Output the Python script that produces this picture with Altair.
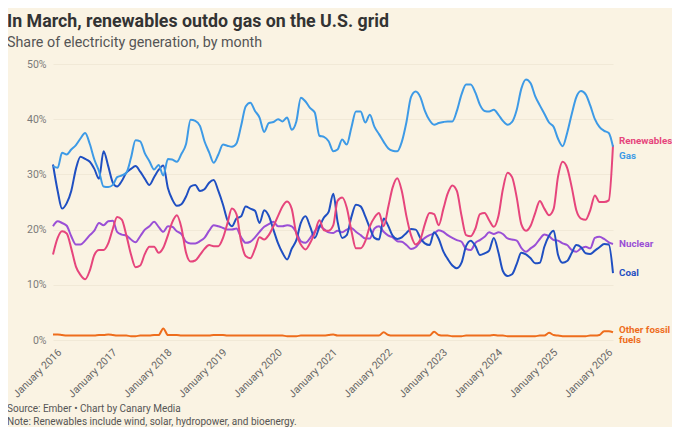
import altair as alt
import pandas as pd

# ---- data (monthly share of US electricity generation, %) ----
years = list(range(2016, 2027))
last_month_2026 = 3

renewables = [
    15.5, 18.5, 19.7, 19.3, 16.6, 13.3, 11.8, 11.0, 12.6, 15.4, 16.3, 16.3,
    17.5, 20.2, 22.3, 21.8, 19.0, 15.5, 13.2, 13.5, 15.6, 16.9, 16.9, 15.8,
    16.7, 19.0, 21.3, 22.6, 20.4, 15.8, 14.2, 14.4, 15.4, 16.5, 17.2, 17.0,
    17.0, 18.5, 21.0, 23.8, 22.8, 17.8, 15.2, 14.8, 16.5, 18.6, 18.2, 19.0,
    20.6, 22.5, 24.2, 25.1, 23.8, 19.2, 17.3, 16.4, 17.6, 19.4, 21.7, 19.9,
    19.8, 20.8, 25.2, 25.8, 24.0, 19.8, 16.6, 16.6, 17.9, 20.6, 22.2, 23.0,
    20.6, 24.2, 27.6, 29.3, 27.0, 22.4, 19.0, 17.3, 18.2, 21.0, 23.0, 22.8,
    20.8, 23.8, 26.5, 28.0, 27.0, 22.5, 19.0, 18.8, 20.2, 22.8, 23.0, 21.7,
    20.5, 22.5, 27.3, 30.3, 29.5, 25.8, 21.0, 19.8, 20.7, 23.0, 25.2, 23.8,
    22.6, 23.8, 29.5, 32.3, 31.2, 27.6, 23.5, 22.0, 21.8, 23.5, 26.2, 25.0,
    25.0, 25.3, 35.3,
]
gas = [
    31.5, 31.2, 33.9, 33.6, 34.5, 35.3, 36.5, 37.5, 35.5, 32.7, 30.6, 27.8,
    27.7, 28.1, 29.5, 29.8, 30.3, 33.0, 36.2, 36.0, 33.8, 32.4, 30.9, 31.7,
    29.8, 32.8, 32.7, 32.3, 33.7, 35.5, 39.9, 39.7, 38.8, 36.0, 34.0, 32.1,
    33.6, 35.4, 35.2, 35.0, 35.6, 38.8, 42.3, 43.0, 41.5, 40.3, 37.7, 39.3,
    39.5, 40.0, 39.6, 40.3, 38.1, 39.6, 43.9, 43.2, 42.0, 41.2, 37.0, 36.8,
    36.0, 34.2, 34.5, 36.3, 35.4, 38.5, 41.4, 41.4, 39.4, 40.8, 38.6, 37.3,
    35.9, 34.7, 34.3, 34.2, 35.9, 39.5, 44.0, 45.0, 44.0, 41.5, 39.8, 39.0,
    39.3, 39.5, 39.6, 39.6, 41.5, 44.5, 46.3, 46.3, 44.8, 42.6, 41.5, 41.4,
    41.7, 40.8, 39.7, 39.0, 39.5, 41.7, 45.5, 47.2, 46.5, 44.2, 42.5, 41.0,
    39.4, 38.6, 36.5, 35.1, 37.5, 41.0, 44.0, 45.1, 44.5, 42.5, 40.0, 38.6,
    37.9, 37.5, 35.0,
]
nuclear = [
    20.6, 21.5, 21.2, 20.7, 18.8, 17.3, 17.3, 18.0, 19.0, 19.8, 21.2, 20.8,
    21.5, 21.6, 19.6, 19.1, 18.9, 18.2, 17.7, 18.8, 20.0, 20.6, 21.4, 20.5,
    19.6, 20.6, 20.5, 19.7, 19.2, 17.8, 17.5, 17.5, 17.9, 18.5, 19.8, 20.8,
    20.6, 20.3, 20.0, 20.0, 20.2, 18.6, 17.6, 17.8, 18.6, 19.6, 20.5, 21.0,
    21.4, 20.6, 20.6, 20.8, 20.6, 19.5, 17.9, 17.6, 18.5, 19.7, 20.6, 20.1,
    19.5, 19.4, 19.8, 19.5, 20.0, 20.3, 19.6, 19.0, 18.4, 18.4, 20.2, 20.6,
    19.6, 18.9, 18.6, 17.9, 17.8, 17.2, 16.5, 16.8, 17.8, 18.5, 19.0, 19.3,
    19.9, 19.6, 19.0, 18.5, 18.1, 17.8, 16.5, 16.3, 17.6, 18.1, 18.7, 19.5,
    19.2, 19.5, 19.2, 18.4, 18.2, 18.0, 16.7, 16.0, 16.6, 17.2, 18.3, 19.1,
    18.8, 18.1, 18.0, 17.5, 17.2, 16.3, 16.0, 16.6, 16.9, 16.6, 18.5, 18.7,
    18.3, 17.7, 17.4,
]
coal = [
    31.8, 27.0, 23.8, 24.8, 27.0, 31.0, 33.2, 32.8, 32.3, 31.0, 29.2, 34.2,
    31.5, 28.5, 27.8, 28.8, 30.3, 31.0, 31.5, 30.5, 29.2, 28.1, 29.5, 30.8,
    31.6, 27.5, 25.5, 24.3, 24.6, 26.0, 27.8, 28.1, 27.0, 27.3, 28.5, 29.0,
    27.0, 24.5, 21.8, 20.6, 22.0, 22.4, 24.2, 23.8, 23.4, 21.2, 23.5, 22.5,
    20.0, 17.5, 15.8, 14.6, 16.5, 18.1, 21.2, 22.4, 20.5, 18.5, 20.5, 22.2,
    23.2, 26.5, 21.5, 18.5, 19.0, 22.3, 24.5, 24.2, 22.4, 20.3, 18.5, 18.2,
    22.0, 20.6, 18.9, 18.3, 18.6, 19.4, 20.1, 20.0, 18.5, 17.5, 17.2, 19.5,
    18.3, 16.0, 14.7, 13.5, 13.0, 14.0, 17.0, 18.0, 17.0, 15.4, 15.7, 16.2,
    18.5, 15.8, 12.5, 11.6, 11.9, 13.8, 15.8, 15.5, 14.8, 13.9, 14.0, 16.9,
    18.9, 19.8, 15.5, 14.0, 14.3, 15.8, 17.2, 16.8, 15.7, 15.6, 16.2, 16.8,
    17.4, 17.3, 12.1,
]
other_fossil = [
    1.0, 1.0, 0.9, 0.8, 0.8, 0.8, 0.8, 0.8, 0.8, 0.8, 0.9, 0.9,
    1.0, 0.9, 0.8, 0.8, 0.8, 0.7, 0.7, 0.8, 0.8, 0.8, 0.9, 0.9,
    2.1, 0.9, 0.9, 0.9, 0.8, 0.8, 0.8, 0.8, 0.8, 0.8, 0.8, 0.9,
    0.9, 0.9, 0.8, 0.8, 0.8, 0.8, 0.8, 0.8, 0.8, 0.8, 0.8, 0.8,
    0.8, 0.8, 0.8, 0.7, 0.7, 0.7, 0.8, 0.8, 0.8, 0.8, 0.8, 0.8,
    0.9, 1.0, 0.8, 0.8, 0.8, 0.8, 0.8, 0.8, 0.8, 0.8, 0.8, 0.8,
    1.4, 0.9, 0.8, 0.8, 0.8, 0.8, 0.8, 0.8, 0.8, 0.8, 0.8, 1.5,
    0.9, 0.8, 0.8, 0.7, 0.7, 0.7, 0.8, 0.8, 0.8, 0.8, 0.8, 0.8,
    0.9, 0.8, 0.8, 0.7, 0.7, 0.7, 0.7, 0.7, 0.7, 0.7, 0.8, 0.8,
    1.3, 0.9, 0.8, 0.7, 0.7, 0.7, 0.7, 0.7, 0.7, 0.8, 0.8, 0.9,
    1.6, 1.6, 1.4,
]

series_names = ["Other fossil fuels", "Nuclear", "Coal", "Renewables", "Gas"]
series_colors = ["#ee6d1c", "#9a4fd6", "#1f4fc2", "#e6457c", "#3d9ae6"]
label_texts = ["Other fossil\nfuels", "Nuclear", "Coal", "Renewables", "Gas"]

months = []
for y in years:
    for m in range(1, 13):
        if y == years[-1] and m > last_month_2026:
            break
        months.append(f"{y}-{m:02d}-01T00:00:00")

values_by_series = {
    "Other fossil fuels": other_fossil,
    "Nuclear": nuclear,
    "Coal": coal,
    "Renewables": renewables,
    "Gas": gas,
}

rows = []
for order, name in enumerate(series_names):
    for d, v in zip(months, values_by_series[name]):
        rows.append({"date": d, "series": name, "value": v, "order": order})
df = pd.DataFrame(rows)

last_rows = []
for name, lab in zip(series_names, label_texts):
    last_rows.append({"date": months[-1], "series": name,
                      "value": values_by_series[name][-1], "label": lab})
labels_df = pd.DataFrame(last_rows)

FONT = "Roboto"
BG = "#faf3e3"

color_scale = alt.Scale(domain=series_names, range=series_colors)
x_scale = alt.Scale(domain=[alt.DateTime(year=2016, month=1, date=1),
                            alt.DateTime(year=2026, month=3, date=1)], nice=False)
y_scale = alt.Scale(domain=[0, 50], nice=False)

year_ticks = [alt.DateTime(year=y, month=1, date=1) for y in years]

lines = alt.Chart(df).mark_line(strokeWidth=2, interpolate="monotone").encode(
    x=alt.X("date:T", scale=x_scale, title=None,
            axis=alt.Axis(values=year_ticks, format="%B %Y", labelAngle=-45,
                          labelAlign="right", labelBaseline="top",
                          labelPadding=7, labelOffset=3, ticks=False,
                          domain=False, grid=False,
                          labelFont=FONT, labelFontSize=10.5, labelColor="#666666",
                          labelOverlap=False)),
    y=alt.Y("value:Q", scale=y_scale, title=None,
            axis=alt.Axis(values=[0, 10, 20, 30, 40, 50],
                          labelExpr="datum.value + '%'", ticks=False, domain=False,
                          grid=True, gridColor="#f1e9d7", gridWidth=1,
                          labelPadding=7, labelFont=FONT, labelFontSize=10.5,
                          labelColor="#7a7a7a")),
    color=alt.Color("series:N", scale=color_scale, legend=None),
    order=alt.Order("order:Q"),
    detail="series:N",
)


def label_layer(name, dy):
    return alt.Chart(labels_df).transform_filter(
        alt.datum.series == name
    ).mark_text(align="left", baseline="middle", dx=6, dy=dy, font=FONT,
                fontSize=9.8, fontWeight="bold", lineBreak="\n",
                lineHeight=9.5).encode(
        x=alt.X("date:T", scale=x_scale),
        y=alt.Y("value:Q", scale=y_scale),
        text="label:N",
        color=alt.Color("series:N", scale=color_scale, legend=None),
    )


labels = [
    label_layer("Renewables", -4),
    label_layer("Gas", 9),
    label_layer("Nuclear", 0),
    label_layer("Coal", 0),
    label_layer("Other fossil fuels", -2),
]

source_text = "Source: Ember \u2022 Chart by Canary Media"
note_text = "Note: Renewables include wind, solar, hydropower, and bioenergy."

footer_src = alt.Chart(pd.DataFrame({"t": [source_text]})).mark_text(
    align="left", baseline="alphabetic", font=FONT, fontSize=10, color="#555555"
).encode(x=alt.value(-46), y=alt.value(347.5), text="t:N")
footer_note = alt.Chart(pd.DataFrame({"t": [note_text]})).mark_text(
    align="left", baseline="alphabetic", font=FONT, fontSize=10, color="#555555"
).encode(x=alt.value(-46), y=alt.value(361), text="t:N")

chart = alt.layer(lines, *labels, footer_src, footer_note).properties(
    width=560,
    height=276,
    autosize=alt.AutoSizeParams(type="none"),
    padding={"left": 45, "top": 56, "right": 59, "bottom": 87},
    background=BG,
    title=alt.TitleParams(
        text="In March, renewables outdo gas on the U.S. grid",
        subtitle="Share of electricity generation, by month",
        anchor="start", frame="group", dx=-46, offset=9,
        font=FONT, fontSize=17.8, fontWeight="bold", color="#333333",
        subtitleFont=FONT, subtitleFontSize=14.3, subtitleColor="#555555",
        subtitlePadding=5,
    ),
).configure_view(stroke=None)

chart.save("out.html", embed_options={"renderer": "svg", "actions": False})
